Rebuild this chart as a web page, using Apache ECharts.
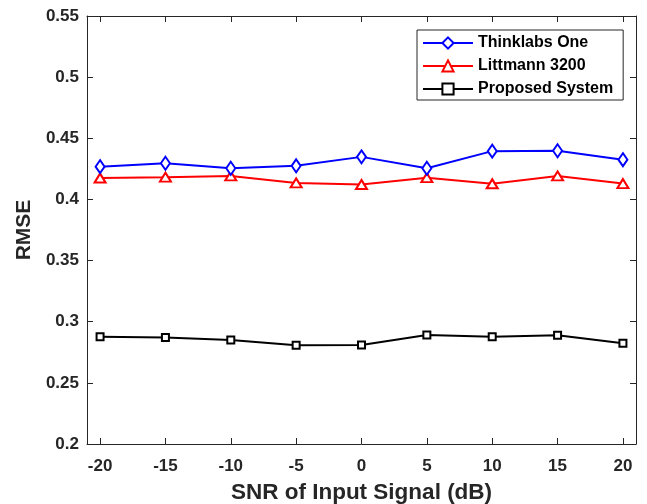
<!DOCTYPE html>
<html>
<head>
<meta charset="utf-8">
<script src="https://cdn.jsdelivr.net/npm/echarts@6/dist/echarts.min.js"></script>
<style>html,body{margin:0;padding:0;background:#fff;}#c{width:647px;height:504px;}</style>
</head>
<body>
<div id="c"></div>
<script>
const snr = [-20, -15, -10, -5, 0, 5, 10, 15, 20];
const thinklabs = [0.4268, 0.4296, 0.4255, 0.4275, 0.4348, 0.4255, 0.4395, 0.4398, 0.4325];
const littmann = [0.4175, 0.4182, 0.4192, 0.4135, 0.4122, 0.4178, 0.4128, 0.4192, 0.4130];
const proposed = [0.2878, 0.2870, 0.2850, 0.2808, 0.2810, 0.2891, 0.2878, 0.2889, 0.2824];
const seriesNames = ['Thinklabs One', 'Littmann 3200', 'Proposed System'];
const xTicks = [-20, -15, -10, -5, 0, 5, 10, 15, 20];

const fontFam = '"Liberation Sans", Arial, sans-serif';
const ink = '#262626';
function pairs(vals) { return snr.map((x, i) => [x, vals[i]]); }

const chart = echarts.init(document.getElementById('c'), null, {renderer: 'canvas'});
const axisCommon = {
  axisLine: {show: true, onZero: false, lineStyle: {color: ink, width: 1}},
  axisTick: {show: true, inside: true, length: 6, lineStyle: {color: ink}},
  splitLine: {show: false}
};
chart.setOption({
  backgroundColor: '#fff',
  animation: false,
  grid: {left: 87, right: 11, top: 16, bottom: 60, containLabel: false, outerBoundsMode: 'none'},
  xAxis: [
    Object.assign({}, axisCommon, {
      type: 'value', min: -21, max: 21, position: 'bottom',
      axisTick: Object.assign({}, axisCommon.axisTick, {customValues: xTicks}),
      axisLabel: {customValues: xTicks, color: ink, fontSize: 17, fontWeight: 'bold', fontFamily: fontFam, margin: 14},
      name: 'SNR of Input Signal (dB)', nameLocation: 'middle', nameGap: 37,
      nameTextStyle: {color: ink, fontSize: 22.5, fontWeight: 'bold', fontFamily: fontFam}
    }),
    Object.assign({}, axisCommon, {
      type: 'value', min: -21, max: 21, position: 'top',
      axisTick: Object.assign({}, axisCommon.axisTick, {customValues: xTicks}),
      axisLabel: {show: false}
    })
  ],
  yAxis: [
    Object.assign({}, axisCommon, {
      type: 'value', min: 0.2, max: 0.55, interval: 0.05, position: 'left',
      axisLabel: {color: ink, fontSize: 17, fontWeight: 'bold', fontFamily: fontFam, margin: 8,
        formatter: v => String(parseFloat(v.toFixed(2)))},
      name: 'RMSE', nameLocation: 'middle', nameGap: 52,
      nameTextStyle: {color: ink, fontSize: 21, fontWeight: 'bold', fontFamily: fontFam}
    }),
    Object.assign({}, axisCommon, {
      type: 'value', min: 0.2, max: 0.55, interval: 0.05, position: 'right',
      axisLabel: {show: false}
    })
  ],
  legend: {
    orient: 'vertical', left: 417, top: 30,
    data: seriesNames,
    itemWidth: 50, itemHeight: 14, itemGap: 7,
    padding: [5, 10, 3, 5],
    borderColor: ink, borderWidth: 1, backgroundColor: '#fff',
    textStyle: {color: '#000', fontSize: 16, fontWeight: 'bold', fontFamily: fontFam}
  },
  series: [
    {name: seriesNames[0], type: 'line', data: pairs(thinklabs), symbol: 'emptyDiamond', symbolSize: [9, 13],
      lineStyle: {color: '#0000ff', width: 2}, itemStyle: {color: '#0000ff', borderWidth: 2}, z: 3},
    {name: seriesNames[1], type: 'line', data: pairs(littmann), symbol: 'emptyTriangle', symbolSize: [11, 9],
      lineStyle: {color: '#ff0000', width: 2}, itemStyle: {color: '#ff0000', borderWidth: 2}, z: 2},
    {name: seriesNames[2], type: 'line', data: pairs(proposed), symbol: 'emptyRect', symbolSize: [7, 7],
      lineStyle: {color: '#000000', width: 2}, itemStyle: {color: '#000000', borderWidth: 2}, z: 2}
  ]
});
</script>
</body>
</html>
